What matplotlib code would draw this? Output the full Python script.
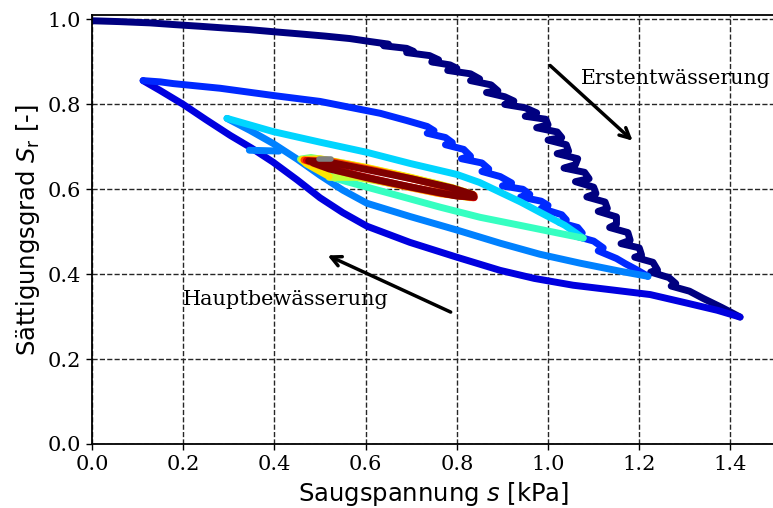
import numpy as np
import matplotlib
matplotlib.use("Agg")
import matplotlib.pyplot as plt

# ── Data ─────────────────────────────────────────────────────────────────────
# segment 0: first drainage (noisy measurement)
erst_s = [0.000, 0.060, 0.127, 0.180, 0.237, 0.290, 0.346, 0.400, 0.456, 0.510,
          0.566, 0.610, 0.650, 0.640, 0.690, 0.705, 0.690, 0.740, 0.760, 0.745,
          0.785, 0.800, 0.780, 0.830, 0.850, 0.830, 0.875, 0.890, 0.865, 0.905,
          0.925, 0.905, 0.950, 0.975, 0.950, 0.995, 1.000, 0.975, 1.020, 1.030,
          1.000, 1.040, 1.045, 1.020, 1.065, 1.060, 1.035, 1.080, 1.090, 1.060,
          1.100, 1.105, 1.085, 1.125, 1.130, 1.110, 1.150, 1.150, 1.135, 1.175,
          1.180, 1.160, 1.200, 1.205, 1.190, 1.230, 1.240, 1.225, 1.265, 1.280,
          1.270, 1.310, 1.340, 1.380, 1.421]
erst_sr = [0.997, 0.995, 0.992, 0.988, 0.984, 0.980, 0.976, 0.971, 0.966, 0.961,
           0.955, 0.948, 0.942, 0.938, 0.932, 0.925, 0.922, 0.915, 0.905, 0.900,
           0.893, 0.885, 0.880, 0.872, 0.860, 0.856, 0.846, 0.832, 0.828, 0.818,
           0.808, 0.800, 0.792, 0.780, 0.772, 0.765, 0.752, 0.745, 0.735, 0.722,
           0.716, 0.705, 0.690, 0.684, 0.672, 0.658, 0.650, 0.640, 0.625, 0.618,
           0.605, 0.590, 0.582, 0.570, 0.555, 0.548, 0.535, 0.518, 0.510, 0.498,
           0.480, 0.472, 0.462, 0.445, 0.440, 0.428, 0.410, 0.405, 0.392, 0.378,
           0.372, 0.360, 0.343, 0.322, 0.299]

# segment 1: main wetting
haupt_s = [1.421, 1.371, 1.300, 1.224, 1.140, 1.055, 0.970, 0.895, 0.800, 0.697,
           0.603, 0.550, 0.500, 0.450, 0.397, 0.350, 0.303, 0.250, 0.200, 0.149,
           0.112]
haupt_sr = [0.299, 0.315, 0.333, 0.352, 0.363, 0.374, 0.390, 0.409, 0.440, 0.475,
            0.513, 0.545, 0.580, 0.622, 0.664, 0.697, 0.727, 0.764, 0.800, 0.833,
            0.856]

# segment 2: second drying
dry2_s = [0.112, 0.150, 0.178, 0.281, 0.397, 0.500, 0.566, 0.632, 0.690, 0.735,
          0.750, 0.735, 0.775, 0.790, 0.775, 0.815, 0.830, 0.810, 0.855, 0.870,
          0.855, 0.895, 0.920, 0.900, 0.945, 0.960, 0.940, 0.985, 1.000, 0.985,
          1.030, 1.040, 1.025, 1.065, 1.075, 1.060, 1.100, 1.121, 1.110, 1.150,
          1.169, 1.195, 1.219]
dry2_sr = [0.856, 0.853, 0.849, 0.838, 0.821, 0.807, 0.793, 0.779, 0.762, 0.748,
           0.738, 0.732, 0.722, 0.710, 0.705, 0.694, 0.678, 0.672, 0.662, 0.648,
           0.642, 0.630, 0.615, 0.608, 0.600, 0.588, 0.582, 0.572, 0.562, 0.555,
           0.540, 0.528, 0.522, 0.510, 0.497, 0.490, 0.478, 0.462, 0.455, 0.437,
           0.425, 0.410, 0.395]

# segment 3: second wetting (+ short stub)
wet3_s = [1.219, 1.158, 1.070, 0.982, 0.895, 0.800, 0.697, 0.603, 0.550, 0.500,
          0.450, 0.397, 0.346, 0.296]
wet3_sr = [0.395, 0.407, 0.426, 0.447, 0.473, 0.504, 0.536, 0.567, 0.598, 0.633,
           0.671, 0.708, 0.739, 0.767]
stub3_s = [0.345, 0.410]
stub3_sr = [0.692, 0.690]

# segment 4: third drying
dry4_s = [0.296, 0.397, 0.500, 0.603, 0.697, 0.800, 0.850, 0.895, 0.940, 0.982,
          1.037, 1.077]
dry4_sr = [0.767, 0.736, 0.711, 0.687, 0.661, 0.635, 0.616, 0.593, 0.570, 0.546,
           0.515, 0.485]

# segment 5: third wetting
wet5_s = [1.077, 1.026, 0.939, 0.851, 0.763, 0.675, 0.603, 0.555, 0.533]
wet5_sr = [0.485, 0.496, 0.515, 0.534, 0.558, 0.584, 0.605, 0.619, 0.626]

# segments 6..12: small inner cycles
cyc6_s = [0.533, 0.490, 0.457, 0.480, 0.560, 0.660, 0.760, 0.830]
cyc6_sr = [0.626, 0.650, 0.671, 0.675, 0.660, 0.637, 0.612, 0.590]
cyc7_s = [0.830, 0.760, 0.660, 0.580, 0.520]
cyc7_sr = [0.580, 0.592, 0.613, 0.628, 0.628]
cyc8_s = [0.520, 0.470, 0.460, 0.500, 0.600, 0.700, 0.790, 0.835]
cyc8_sr = [0.630, 0.660, 0.670, 0.672, 0.652, 0.628, 0.604, 0.588]
cyc9_s = [0.835, 0.760, 0.660, 0.580, 0.500, 0.465]
cyc9_sr = [0.580, 0.590, 0.612, 0.632, 0.655, 0.669]
cyc10_s = [0.465, 0.520, 0.620, 0.720, 0.800, 0.838]
cyc10_sr = [0.669, 0.667, 0.645, 0.620, 0.598, 0.586]
cyc11_s = [0.838, 0.770, 0.670, 0.580, 0.510, 0.470]
cyc11_sr = [0.580, 0.590, 0.612, 0.634, 0.655, 0.668]
cyc12_s = [0.475, 0.520, 0.600, 0.700, 0.790, 0.835, 0.838, 0.800, 0.700, 0.600,
           0.520, 0.485]
cyc12_sr = [0.667, 0.664, 0.647, 0.625, 0.603, 0.588, 0.582, 0.584, 0.605, 0.628,
            0.648, 0.662]
last_s = [0.497, 0.525]
last_sr = [0.671, 0.671]

segments = [(erst_s, erst_sr), (haupt_s, haupt_sr), (dry2_s, dry2_sr),
            (wet3_s, wet3_sr), (dry4_s, dry4_sr), (wet5_s, wet5_sr),
            (cyc6_s, cyc6_sr), (cyc7_s, cyc7_sr), (cyc8_s, cyc8_sr),
            (cyc9_s, cyc9_sr), (cyc10_s, cyc10_sr), (cyc11_s, cyc11_sr),
            (cyc12_s, cyc12_sr)]

# ── Plot ──────────────────────────────────────────────────────────────────────
serif = "DejaVu Serif"
sans = "DejaVu Sans"

fig = plt.figure(figsize=(7.73, 5.08), dpi=100)
ax = fig.add_axes([0.119, 0.126, 0.885, 0.844])

colors = plt.cm.jet(np.linspace(0, 1, len(segments)))
line_kw = dict(lw=5, solid_capstyle="round", solid_joinstyle="round")

for i, (s, sr) in enumerate(segments):
    ax.plot(s, sr, color=colors[i], **line_kw)
    if i == 3:
        ax.plot(stub3_s, stub3_sr, color=colors[i], **line_kw)
ax.plot(last_s, last_sr, color="0.5", lw=4, solid_capstyle="round")

ax.set_xlim(0, 1.5)
ax.set_ylim(0, 1.01)
ax.set_xticks(np.arange(0, 1.41, 0.2))
ax.set_yticks(np.arange(0, 1.01, 0.2))
ax.xaxis.set_major_formatter(matplotlib.ticker.FormatStrFormatter("%.1f"))
ax.yaxis.set_major_formatter(matplotlib.ticker.FormatStrFormatter("%.1f"))
ax.grid(True, color="0.15", ls="--", lw=1)
ax.tick_params(direction="out", length=4.5, width=1, labelsize=15)
for lab in ax.get_xticklabels() + ax.get_yticklabels():
    lab.set_family(serif)
for sp in ax.spines.values():
    sp.set_linewidth(1.3)

ax.set_xlabel(r"Saugspannung $s$ [kPa]", fontsize=17.5, family=sans)
ax.set_ylabel(r"Sättigungsgrad $S_\mathrm{r}$ [-]", fontsize=17.5, family=sans)

arrow_kw = dict(arrowstyle="->", lw=2.5, color="k", mutation_scale=18)
ax.annotate("", xy=(1.19, 0.71), xytext=(1.0, 0.896), arrowprops=arrow_kw)
ax.text(1.072, 0.849, "Erstentwässerung", fontsize=14.8, family=serif,
        va="baseline", ha="left")
ax.annotate("", xy=(0.511, 0.447), xytext=(0.792, 0.308), arrowprops=arrow_kw)
ax.text(0.2, 0.327, "Hauptbewässerung", fontsize=15, family=serif,
        va="baseline", ha="left")

fig.savefig("out.png", dpi=100)
